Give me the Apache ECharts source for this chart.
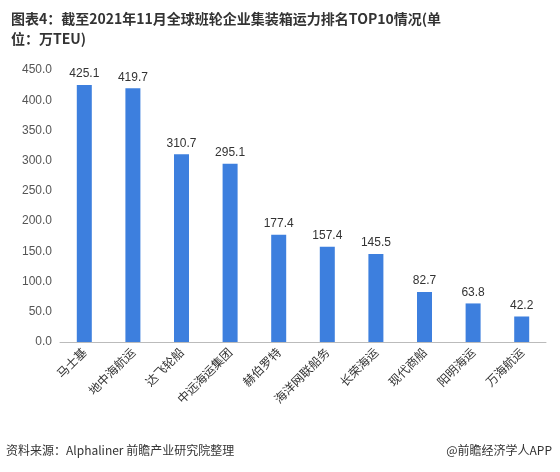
<!DOCTYPE html>
<html>
<head>
<meta charset="utf-8">
<script src="https://cdn.jsdelivr.net/npm/echarts@6/dist/echarts.min.js"></script>
<style>
  body { margin: 0; background: #fff; }
  #chart { width: 560px; height: 472px; }
</style>
</head>
<body>
<div id="chart"></div>
<script>
const categories = ['马士基', '地中海航运', '达飞轮船', '中远海运集团', '赫伯罗特', '海洋网联船务', '长荣海运', '现代商船', '阳明海运', '万海航运']
const capacity = [425.1, 419.7, 310.7, 295.1, 177.4, 157.4, 145.5, 82.7, 63.8, 42.2]

const myChart = echarts.init(document.getElementById('chart'))
myChart.setOption({
  animation: false,
  title: {
    text: '图表4：截至2021年11月全球班轮企业集装箱运力排名TOP10情况(单\n位：万TEU)',
    left: 6,
    top: 4,
    textStyle: { fontSize: 14, fontWeight: 'bold', color: '#333', lineHeight: 20, fontFamily: 'Noto Sans CJK SC' },
  },
  graphic: [
    { type: 'text', left: 6, top: 444, style: { text: '资料来源：Alphaliner 前瞻产业研究院整理', fontSize: 12, fill: '#333', fontFamily: 'Noto Sans CJK SC' } },
    { type: 'text', right: 8, top: 444, style: { text: '@前瞻经济学人APP', fontSize: 12, fill: '#333', fontFamily: 'Noto Sans CJK SC' } },
  ],
  grid: { left: 60, right: 14, top: 70, bottom: 130 },
  xAxis: {
    type: 'category',
    data: categories,
    axisTick: { show: false },
    axisLine: { lineStyle: { color: '#bbb' } },
    axisLabel: { rotate: 45, interval: 0, fontSize: 12, color: '#333', fontFamily: 'Noto Sans CJK SC' },
  },
  yAxis: {
    type: 'value',
    min: 0,
    max: 450,
    interval: 50,
    axisLabel: { formatter: v => v.toFixed(1), fontSize: 12, color: '#555' },
    splitLine: { show: false },
  },
  series: [{
    type: 'bar',
    data: capacity,
    barWidth: 15,
    itemStyle: { color: '#3d7fde' },
    label: { show: true, position: 'top', formatter: p => p.value.toFixed(1), fontSize: 12, color: '#333' },
  }],
})
</script>
</body>
</html>
